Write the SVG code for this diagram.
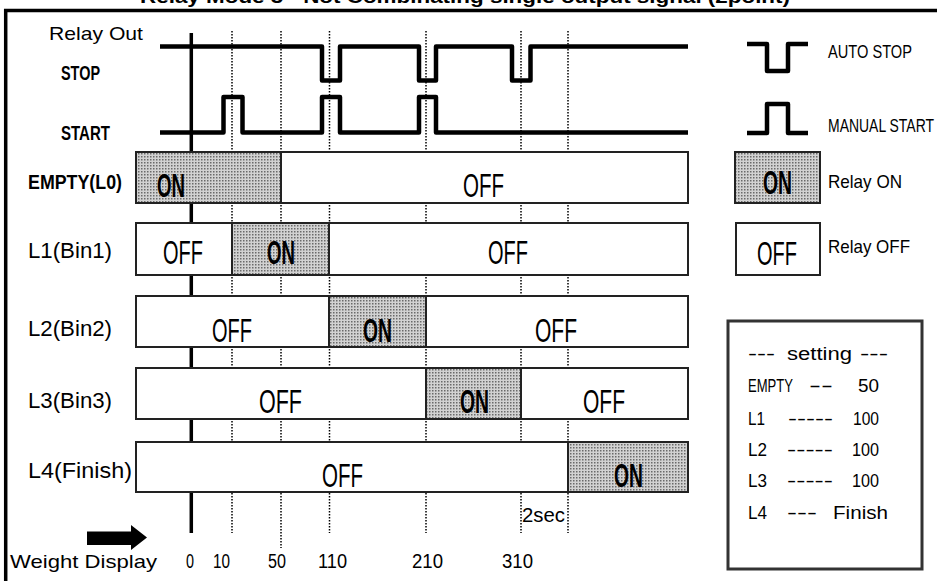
<svg xmlns="http://www.w3.org/2000/svg" width="937" height="581" viewBox="0 0 937 581">
<defs>
<pattern id="dots" width="3" height="3" patternUnits="userSpaceOnUse">
<rect width="3" height="3" fill="#d2d2d2"/>
<rect width="1.5" height="1.5" fill="#6a6a6a"/>
</pattern>
<style>
.frame{stroke:#000;stroke-width:3.5;fill:none}
.sig{stroke:#000;stroke-width:4.5;fill:none;stroke-linejoin:round}
.axis{stroke:#000;stroke-width:3.5}
.dot{stroke:#000;stroke-width:1.5;stroke-dasharray:1.5 1.5}
.off{fill:#fff;stroke:#222;stroke-width:2}
.on{fill:url(#dots);stroke:#222;stroke-width:2}
.big{font-family:"Liberation Sans",Arial,sans-serif;font-size:34px;fill:#000}
.bigon{font-family:"Liberation Sans",Arial,sans-serif;font-size:34px;font-weight:bold;fill:#000}
.lab{font-family:"Liberation Sans",Arial,sans-serif;font-size:22px;fill:#000}
.labb{font-family:"Liberation Sans",Arial,sans-serif;font-size:21px;font-weight:bold;fill:#000}
.thin{font-family:"Liberation Sans",Arial,sans-serif;font-size:19px;fill:#000}
.set{font-family:"Liberation Sans",Arial,sans-serif;font-size:18px;fill:#000}
.num{font-family:"Liberation Sans",Arial,sans-serif;font-size:20px;fill:#000}
.title{font-family:"Liberation Sans",Arial,sans-serif;font-size:18px;font-weight:bold;fill:#000}
</style>
</defs>
<rect width="937" height="581" fill="#fff"/>
<text class="title" x="140" y="3" textLength="650" lengthAdjust="spacingAndGlyphs">Relay Mode 3 - Not Combinating single output signal (2point)</text>
<g id="frame">
<line class="frame" x1="4" y1="10.5" x2="937" y2="10.5"/>
<line class="frame" x1="5.7" y1="9" x2="5.7" y2="581"/>
</g>
<g id="grid">
<line class="axis" x1="191.3" y1="33" x2="191.3" y2="533"/>
<line class="dot" x1="232" y1="31" x2="232" y2="533"/>
<line class="dot" x1="281" y1="31" x2="281" y2="548"/>
<line class="dot" x1="329.5" y1="31" x2="329.5" y2="533"/>
<line class="dot" x1="426" y1="31" x2="426" y2="533"/>
<line class="dot" x1="521" y1="31" x2="521" y2="533"/>
<line class="dot" x1="568" y1="31" x2="568" y2="533"/>
</g>
<g id="connectors">
<path class="sig" d="M160,46.5 H322 V80.5 H340 V46.5 H419 V80.5 H436 V46.5 H512 V80.5 H530.5 V46.5 H688"/>
<path class="sig" d="M160,132.5 H223.5 V97 H242.5 V132.5 H322 V97 H340 V132.5 H419 V97 H436 V132.5 H688"/>
</g>
<g id="signal-labels">
<text class="thin" x="49" y="40" textLength="94" lengthAdjust="spacingAndGlyphs">Relay Out</text>
<text class="labb" x="61" y="80" font-size="22" textLength="39" lengthAdjust="spacingAndGlyphs">STOP</text>
<text class="labb" x="61" y="140" font-size="22" textLength="49" lengthAdjust="spacingAndGlyphs">START</text>
</g>
<g id="row-empty">
<text class="labb" x="28" y="189" textLength="94" lengthAdjust="spacingAndGlyphs">EMPTY(L0)</text>
<rect class="on" x="136" y="152" width="145" height="51"/>
<rect class="off" x="281" y="152" width="407" height="51"/>
<text class="bigon" x="157" y="197" textLength="28" lengthAdjust="spacingAndGlyphs">ON</text>
<text class="big" x="463" y="197" textLength="41" lengthAdjust="spacingAndGlyphs">OFF</text>
</g>
<g id="row-l1">
<text class="lab" x="28" y="258" textLength="84" lengthAdjust="spacingAndGlyphs">L1(Bin1)</text>
<rect class="off" x="136" y="223" width="96" height="52"/>
<rect class="on" x="232" y="223" width="97" height="52"/>
<rect class="off" x="329" y="223" width="359" height="52"/>
<text class="big" x="163" y="264" textLength="40" lengthAdjust="spacingAndGlyphs">OFF</text>
<text class="bigon" x="267" y="264" textLength="28" lengthAdjust="spacingAndGlyphs">ON</text>
<text class="big" x="488" y="264" textLength="40" lengthAdjust="spacingAndGlyphs">OFF</text>
</g>
<g id="row-l2">
<text class="lab" x="28" y="336" textLength="84" lengthAdjust="spacingAndGlyphs">L2(Bin2)</text>
<rect class="off" x="136" y="296" width="193" height="51"/>
<rect class="on" x="329" y="296" width="97" height="51"/>
<rect class="off" x="426" y="296" width="262" height="51"/>
<text class="big" x="212" y="342" textLength="40" lengthAdjust="spacingAndGlyphs">OFF</text>
<text class="bigon" x="363" y="342" textLength="29" lengthAdjust="spacingAndGlyphs">ON</text>
<text class="big" x="535" y="342" textLength="42" lengthAdjust="spacingAndGlyphs">OFF</text>
</g>
<g id="row-l3">
<text class="lab" x="28" y="408" textLength="84" lengthAdjust="spacingAndGlyphs">L3(Bin3)</text>
<rect class="off" x="136" y="368" width="290" height="51"/>
<rect class="on" x="426" y="368" width="95" height="51"/>
<rect class="off" x="521" y="368" width="167" height="51"/>
<text class="big" x="259" y="413" textLength="43" lengthAdjust="spacingAndGlyphs">OFF</text>
<text class="bigon" x="460" y="413" textLength="29" lengthAdjust="spacingAndGlyphs">ON</text>
<text class="big" x="583" y="413" textLength="42" lengthAdjust="spacingAndGlyphs">OFF</text>
</g>
<g id="row-l4">
<text class="lab" x="28" y="478" textLength="104" lengthAdjust="spacingAndGlyphs">L4(Finish)</text>
<rect class="off" x="136" y="442" width="432" height="50"/>
<rect class="on" x="568" y="442" width="120" height="50"/>
<text class="big" x="322" y="487" textLength="41" lengthAdjust="spacingAndGlyphs">OFF</text>
<text class="bigon" x="614" y="487" textLength="29" lengthAdjust="spacingAndGlyphs">ON</text>
</g>
<g id="legend">
<path class="sig" d="M747,44 H767 V71 H788 V44 H808"/>
<text class="thin" x="828" y="57.5" textLength="84" lengthAdjust="spacingAndGlyphs">AUTO STOP</text>
<path class="sig" d="M747,133 H767 V104 H788 V133 H808"/>
<text class="thin" x="828" y="132" textLength="106" lengthAdjust="spacingAndGlyphs">MANUAL START</text>
<rect class="on" x="735" y="152" width="85" height="51"/>
<text class="bigon" x="763" y="194" font-size="32" textLength="29" lengthAdjust="spacingAndGlyphs">ON</text>
<text class="thin" x="828" y="188" textLength="74" lengthAdjust="spacingAndGlyphs">Relay ON</text>
<rect class="off" x="736" y="223" width="84" height="52"/>
<text class="big" x="757" y="265" textLength="40" lengthAdjust="spacingAndGlyphs">OFF</text>
<text class="thin" x="828" y="253" textLength="82" lengthAdjust="spacingAndGlyphs">Relay OFF</text>
</g>
<g id="setting">
<rect x="728" y="321" width="194" height="248" fill="#fff" stroke="#333" stroke-width="3"/>
<text class="set" x="748" y="360" textLength="27" lengthAdjust="spacingAndGlyphs">---</text>
<text class="set" x="787" y="360" textLength="65" lengthAdjust="spacingAndGlyphs">setting</text>
<text class="set" x="860" y="360" textLength="28" lengthAdjust="spacingAndGlyphs">---</text>
<text class="set" x="748" y="392" textLength="45" lengthAdjust="spacingAndGlyphs">EMPTY</text>
<text class="set" x="809" y="392" textLength="24" lengthAdjust="spacingAndGlyphs">--</text>
<text class="set" x="858" y="392" textLength="21" lengthAdjust="spacingAndGlyphs">50</text>
<text class="set" x="748" y="425" textLength="17" lengthAdjust="spacingAndGlyphs">L1</text>
<text class="set" x="788" y="425" textLength="45" lengthAdjust="spacingAndGlyphs">-----</text>
<text class="set" x="853" y="425" textLength="26" lengthAdjust="spacingAndGlyphs">100</text>
<text class="set" x="748" y="456" textLength="19" lengthAdjust="spacingAndGlyphs">L2</text>
<text class="set" x="787" y="456" textLength="46" lengthAdjust="spacingAndGlyphs">-----</text>
<text class="set" x="852" y="456" textLength="27" lengthAdjust="spacingAndGlyphs">100</text>
<text class="set" x="748" y="487" textLength="19" lengthAdjust="spacingAndGlyphs">L3</text>
<text class="set" x="787" y="487" textLength="46" lengthAdjust="spacingAndGlyphs">-----</text>
<text class="set" x="852" y="487" textLength="27" lengthAdjust="spacingAndGlyphs">100</text>
<text class="set" x="748" y="519" textLength="19" lengthAdjust="spacingAndGlyphs">L4</text>
<text class="set" x="787" y="519" textLength="30" lengthAdjust="spacingAndGlyphs">---</text>
<text class="set" x="833" y="519" textLength="55" lengthAdjust="spacingAndGlyphs">Finish</text>
</g>
<g id="axis-labels">
<polygon points="87,531.5 131,531.5 131,525 147,537.5 131,550 131,545 87,545" fill="#000"/>
<text class="thin" x="10" y="568" font-size="21" textLength="147" lengthAdjust="spacingAndGlyphs">Weight Display</text>
<text class="num" x="186" y="568" textLength="8" lengthAdjust="spacingAndGlyphs">0</text>
<text class="num" x="213" y="568" textLength="17" lengthAdjust="spacingAndGlyphs">10</text>
<text class="num" x="268" y="568" textLength="18" lengthAdjust="spacingAndGlyphs">50</text>
<text class="num" x="318" y="568" textLength="29" lengthAdjust="spacingAndGlyphs">110</text>
<text class="num" x="412" y="568" textLength="31" lengthAdjust="spacingAndGlyphs">210</text>
<text class="num" x="502" y="568" textLength="31" lengthAdjust="spacingAndGlyphs">310</text>
<text class="num" x="522" y="522" textLength="43" lengthAdjust="spacingAndGlyphs">2sec</text>
</g>
</svg>
